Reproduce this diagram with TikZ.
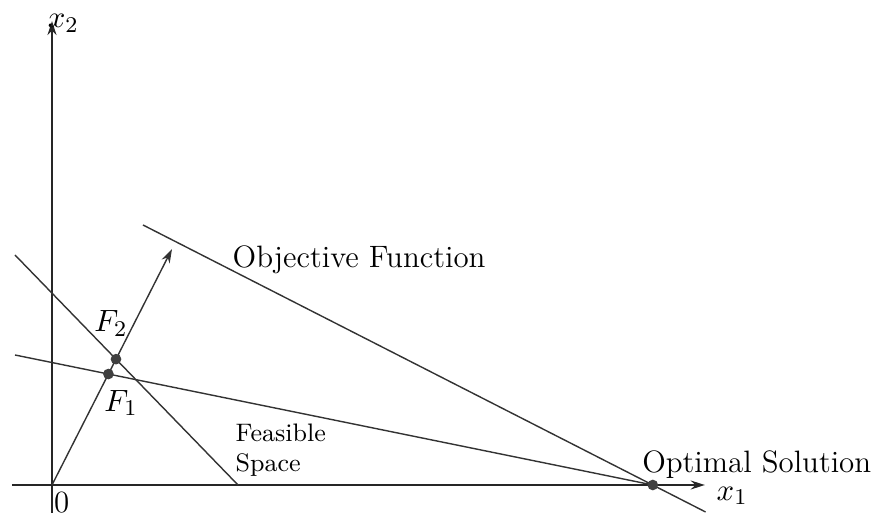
\documentclass[tikz,border=0pt]{standalone}
\usetikzlibrary{arrows.meta,positioning}
\begin{document}
\begin{tikzpicture}[
  font=\fontsize{11}{13}\selectfont,
  line width=0.5pt,
  axis/.style={draw=black!85, -{Stealth[length=5pt,width=3.2pt]}},
  bound/.style={draw=black!80},
  ray/.style={draw=black!80, -{Stealth[length=5pt,width=3.2pt]}},
  sol/.style={circle, fill=black!75, inner sep=0pt, minimum size=3.8pt},
  lbl/.style={inner sep=0pt},
  small/.style={font=\fontsize{9}{10.6}\selectfont, align=left, inner sep=0pt}
]
\useasboundingbox (-0.65,-0.35) rectangle (10.325,6.0625);
% axes
\coordinate (O)  at (0,0);
\coordinate (X0) at (-0.5,0);
\coordinate (X1) at (8.16,0);
\coordinate (Y0) at (0,-0.35);
\coordinate (Y1) at (0,5.8);
\draw[axis] (X0) -- (X1);
\draw[axis] (Y0) -- (Y1);
\node[lbl, anchor=base west] (x1lab) at (8.3,-0.19) {$x_1$};
\node[lbl, anchor=base west] (x2lab) at (-0.06,5.72) {$x_2$};
\node[lbl, anchor=north] (olab) at (0.12,-0.08) {0};
% constraints
\coordinate (A0)  at (-0.4625,2.875);
\coordinate (A1)  at (2.325,0);
\coordinate (B0)  at (-0.4625,1.625);
\coordinate (Opt) at (7.51,0);
\draw[bound] (A0) -- (A1);
\draw[bound] (B0) -- (Opt);
% objective function
\coordinate (C0) at (1.1375,3.25);
\coordinate (C1) at (8.17,-0.3375);
\draw[bound] (C0) -- (C1);
% search direction
\coordinate (T)  at (1.5,2.95);
\coordinate (F1) at (intersection of O--T and B0--Opt);
\coordinate (F2) at (intersection of O--T and A0--A1);
\draw[ray] (O) -- (T);
\node[sol] (f1)  at (F1) {};
\node[sol] (f2)  at (F2) {};
\node[sol] (opt) at (Opt) {};
% labels
\node[below=0pt of f1, xshift=4.5pt] (f1lab) {$F_1$};
\node[above=2.3pt of f2, xshift=-1.8pt] (f2lab) {$F_2$};
\node[lbl, anchor=base west] (objlab) at (2.25,2.7125) {Objective Function};
\node[small, anchor=north west] (feas) at (2.2875,0.775) {Feasible\\Space};
\node[lbl, anchor=base west] (optlab) at (7.37,0.16) {Optimal Solution};
\end{tikzpicture}
\end{document}
